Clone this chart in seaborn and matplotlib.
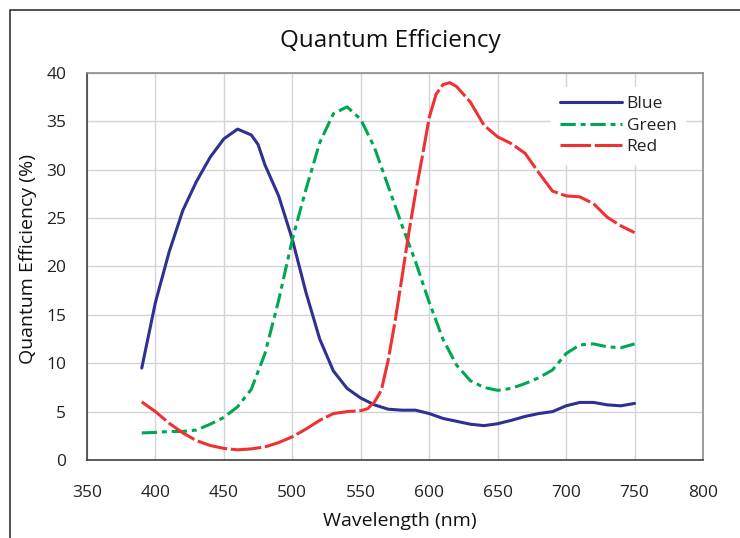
import matplotlib
matplotlib.use("Agg")
import matplotlib.pyplot as plt
import seaborn as sns
import pandas as pd
from matplotlib.patches import Rectangle

wl_blue = [390, 400, 410, 420, 430, 440, 450, 460, 470, 475, 480, 490, 500, 510, 520, 530, 540, 550, 560,
           570, 580, 590, 600, 610, 620, 630, 640, 650, 660, 670, 680, 690, 700, 710, 720, 730, 740, 750]
blue_qe = [9.5, 16.3, 21.5, 25.8, 28.8, 31.3, 33.2, 34.2, 33.6, 32.6, 30.5, 27.3, 22.8, 17.3, 12.5, 9.2, 7.4, 6.4, 5.7,
           5.25, 5.15, 5.15, 4.8, 4.3, 4.0, 3.7, 3.55, 3.75, 4.1, 4.5, 4.8, 5.0, 5.6, 5.95, 5.95, 5.7, 5.6, 5.85]

wl_green = [390, 400, 410, 420, 430, 440, 450, 460, 470, 480, 490, 500, 510, 520, 530, 540, 550, 560,
            570, 580, 590, 600, 610, 620, 630, 640, 650, 660, 670, 680, 690, 700, 710, 720, 730, 740, 750]
green_qe = [2.8, 2.85, 2.95, 2.95, 3.1, 3.7, 4.4, 5.5, 7.3, 11.0, 16.5, 22.8, 28.0, 32.8, 35.8, 36.5, 35.2, 32.3,
            28.3, 24.3, 20.5, 16.3, 12.5, 9.8, 8.2, 7.5, 7.2, 7.4, 7.9, 8.5, 9.3, 11.0, 11.9, 12.0, 11.7, 11.6, 12.0]

wl_red = [390, 400, 410, 420, 430, 440, 450, 460, 470, 480, 490, 500, 510, 520, 530, 540, 550, 555, 560, 565,
          570, 575, 580, 585, 590, 595, 600, 605, 610, 615, 620, 630, 640, 650, 660, 670, 680, 690, 700, 710,
          720, 730, 740, 750]
red_qe = [6.0, 5.0, 3.8, 2.8, 2.0, 1.5, 1.2, 1.05, 1.15, 1.35, 1.8, 2.4, 3.2, 4.1, 4.8, 5.0, 5.1, 5.3, 6.0, 7.2,
          10.3, 14.3, 18.8, 23.4, 27.6, 31.4, 35.4, 37.8, 38.8, 39.0, 38.6, 37.0, 34.6, 33.4, 32.7, 31.7, 29.7,
          27.8, 27.3, 27.2, 26.5, 25.1, 24.2, 23.5]

series_names = ["Blue", "Green", "Red"]
colors = {"Blue": "#2E3192", "Green": "#00A651", "Red": "#EE3135"}
dash_map = {"Blue": "", "Green": (5.0, 1.6, 1.6, 1.6), "Red": (10, 1.2)}

x_ticks = [350, 400, 450, 500, 550, 600, 650, 700, 750, 800]
y_ticks = [0, 5, 10, 15, 20, 25, 30, 35, 40]

df = pd.concat([
    pd.DataFrame({"wl": wl_blue, "qe": blue_qe, "s": "Blue"}),
    pd.DataFrame({"wl": wl_green, "qe": green_qe, "s": "Green"}),
    pd.DataFrame({"wl": wl_red, "qe": red_qe, "s": "Red"}),
], ignore_index=True)

sns.set_style("white")
plt.rcParams["font.family"] = ["Open Sans", "DejaVu Sans"]

fig = plt.figure(figsize=(7.4, 5.38), dpi=100)
ax = fig.add_axes([87/740, 1-460/538, (703-87)/740, (460-73)/538])

sns.lineplot(data=df, x="wl", y="qe", hue="s", style="s", palette=colors, dashes=dash_map,
             hue_order=series_names, style_order=series_names, linewidth=2.2, ax=ax, sort=False,
             estimator=None, legend=True)

ax.set_xlim(350, 800)
ax.set_ylim(0, 40)
ax.set_xticks(x_ticks)
ax.set_yticks(y_ticks)
ax.grid(True, color="#D3D3DB", linewidth=1.0)
ax.set_axisbelow(True)
ax.set_xlabel("")
ax.set_ylabel("")
ax.tick_params(axis="both", direction="out", width=1, color="#404040",
               labelsize=12.5, labelcolor="#222222")
ax.tick_params(axis="y", length=7, pad=8)
ax.tick_params(axis="x", length=6, pad=12)
for side in ["left", "bottom"]:
    ax.spines[side].set_color("#404040")
    ax.spines[side].set_linewidth(1.2)
for side in ["top", "right"]:
    ax.spines[side].set_color("#8C8C8C")
    ax.spines[side].set_linewidth(1.2)
    ax.spines[side].set_visible(True)

handles, labels = ax.get_legend_handles_labels()
leg = ax.legend(handles, labels, loc="upper right", bbox_to_anchor=(0.985, 0.985), frameon=True,
                fontsize=12.5, handlelength=3.6, handletextpad=0.25, labelspacing=0.3,
                borderpad=0.5, facecolor="white", edgecolor="white", framealpha=1, fancybox=False)
for t in leg.get_texts():
    t.set_color("#222222")

fig.text(390/740, 1-41/538, "Quantum Efficiency", ha="center", va="center", fontsize=17.5, color="#111111")
fig.text(400/740, 1-521/538, "Wavelength (nm)", ha="center", va="center", fontsize=14, color="#111111")
fig.text(28/740, 1-259/538, "Quantum Efficiency (%)", ha="center", va="center", rotation=90,
         fontsize=14, color="#111111")

fig.patches.append(Rectangle((9.5/740, -0.1), 2, 1.1 - 10/538, transform=fig.transFigure,
                             fill=False, edgecolor="#333333", linewidth=1.2))

fig.savefig("out.png", dpi=100)
